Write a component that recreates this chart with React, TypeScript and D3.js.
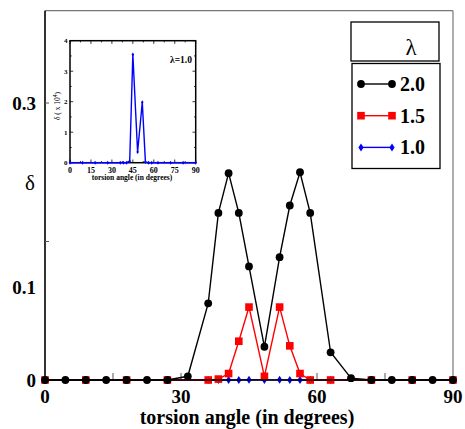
import React from "react";
import * as d3 from "d3";

// ---- data ----
const angles2 = [0, 4.5, 9, 13.5, 18, 22.5, 27, 31.5, 36, 38.25, 40.5, 42.75, 45, 48.4, 51.75, 54, 56.25, 58.5, 63, 67.5, 72, 76.5, 81, 85.5, 90];
const delta2 = [0, 0, 0, 0, 0, 0, 0, 0.004, 0.083, 0.181, 0.224, 0.181, 0.123, 0.036, 0.133, 0.189, 0.225, 0.181, 0.03, 0.002, 0, 0, 0, 0, 0];
const anglesB = [0, 9, 18, 27, 36, 38.25, 40.5, 42.75, 45, 48.4, 51.75, 54, 56.25, 58.5, 63, 72, 81, 90];
const delta15 = [0, 0, 0, 0, 0, 0.001, 0.007, 0.042, 0.079, 0.004, 0.079, 0.037, 0.007, 0, 0, 0, 0, 0];
const delta10e4 = [0, 0, 0, 0, 0, 0, 0, 0.05, 3.55, 0.35, 1.98, 0.02, 0, 0, 0, 0, 0, 0];
const xTickLabels = [0, 30, 60, 90];
const xTickMarks = [15, 30, 60, 75];
const yTickLabels = [0, 0.1, 0.3];
const yTickMarks = [0.15, 0.3];
const insetXTicks = [0, 15, 30, 45, 60, 75, 90];
const insetYTicks = [0, 1, 2, 3, 4];
const legendItems = [
  { label: "2.0", color: "#000000", marker: "circle" },
  { label: "1.5", color: "#ff0000", marker: "square" },
  { label: "1.0", color: "#0000ff", marker: "diamond" },
];

const SERIF = "Liberation Serif, Times New Roman, serif";

function Marker({ type, x, y, color, s = 1 }: { type: string; x: number; y: number; color: string; s?: number }) {
  if (type === "circle") return <circle cx={x} cy={y} r={3.9 * s} fill={color} />;
  if (type === "square") {
    const h = 3.8 * s;
    return <rect x={x - h} y={y - h} width={2 * h} height={2 * h} fill={color} />;
  }
  const w = 2.6 * s, h = 4 * s;
  return <path d={`M${x},${y - h}L${x + w},${y}L${x},${y + h}L${x - w},${y}Z`} fill={color} />;
}

export default function App() {
  const x = d3.scaleLinear().domain([0, 90]).range([45, 453]);
  const y = d3.scaleLinear().domain([0, 0.4]).range([380, 10.7]);
  const ix = d3.scaleLinear().domain([0, 90]).range([70, 195.7]);
  const iy = d3.scaleLinear().domain([0, 4]).range([162.7, 40.7]);

  const blackPts: [number, number][] = angles2.map((a, i) => [a, delta2[i]]);
  const redPts: [number, number][] = anglesB.map((a, i) => [a, delta15[i]]);
  const bluePts: [number, number][] = anglesB.map((a, i) => [a, delta10e4[i] * 1e-4]);
  const insetPts: [number, number][] = anglesB.map((a, i) => [a, delta10e4[i]]);

  const line = d3.line<[number, number]>().x((d) => x(d[0])).y((d) => y(d[1]));
  const iline = d3.line<[number, number]>().x((d) => ix(d[0])).y((d) => iy(d[1]));

  return (
    <svg width={465} height={429} style={{ position: "absolute", left: 0, top: 0, background: "#fff", fontFamily: SERIF }}>
      {/* frame */}
      <line x1={45} x2={453} y1={10.7} y2={10.7} stroke="#777" strokeWidth={1.2} />
      <line x1={453} x2={453} y1={10.7} y2={380} stroke="#777" strokeWidth={1.2} />
      <line x1={45} x2={45} y1={10.7} y2={380} stroke="#000" strokeWidth={1.6} />

      {/* ticks */}
      {xTickMarks.map((t) => (
        <line key={"xt" + t} x1={x(t)} x2={x(t)} y1={380} y2={373} stroke="#555" strokeWidth={1} />
      ))}
      {yTickMarks.map((t) => (
        <line key={"yt" + t} x1={45} x2={49} y1={y(t)} y2={y(t)} stroke="#555" strokeWidth={1} />
      ))}

      {/* series: blue, red, black */}
      <path d={line(bluePts)!} fill="none" stroke="#0000ff" strokeWidth={1.3} />
      {bluePts.map((p, i) => (
        <Marker key={"b" + i} type="diamond" x={x(p[0])} y={y(p[1])} color="#0000ff" />
      ))}
      <path d={line(redPts)!} fill="none" stroke="#ff0000" strokeWidth={1.4} />
      {redPts.map((p, i) => (
        <Marker key={"r" + i} type="square" x={x(p[0])} y={y(p[1])} color="#ff0000" />
      ))}
      <line x1={45} x2={453} y1={380} y2={380} stroke="#000" strokeWidth={1.6} />
      <path d={line(blackPts)!} fill="none" stroke="#000" strokeWidth={1.4} />
      {blackPts.map((p, i) => (
        <Marker key={"k" + i} type="circle" x={x(p[0])} y={y(p[1])} color="#000" />
      ))}

      {/* tick labels */}
      {xTickLabels.map((t) => (
        <text key={"xl" + t} x={x(t)} y={403} textAnchor="middle" fontSize={19} fontWeight="bold" fontFamily={SERIF}>
          {t}
        </text>
      ))}
      {yTickLabels.map((t) => (
        <text key={"yl" + t} x={36} y={y(t) + 6.5} textAnchor="end" fontSize={19} fontWeight="bold" fontFamily={SERIF}>
          {t}
        </text>
      ))}
      <text x={30} y={190} textAnchor="middle" fontSize={21} fontFamily={SERIF}>δ</text>
      <text x={247} y={424} textAnchor="middle" fontSize={20} fontWeight="bold" fontFamily={SERIF}>
        torsion angle (in degrees)
      </text>

      {/* legend */}
      <rect x={351} y={22} width={88} height={39} fill="#fff" stroke="#000" strokeWidth={1.3} />
      <text x={411} y={55} textAnchor="middle" fontSize={23} fontFamily={SERIF}>λ</text>
      <rect x={352} y={63.5} width={88} height={105} fill="#fff" stroke="#000" strokeWidth={1.3} />
      {legendItems.map((it, i) => {
        const ly = 84 + i * 31.7;
        return (
          <g key={"lg" + i}>
            <line x1={361} x2={392} y1={ly} y2={ly} stroke={it.color} strokeWidth={1.4} />
            <Marker type={it.marker} x={361} y={ly} color={it.color} />
            <Marker type={it.marker} x={392} y={ly} color={it.color} />
            <text x={400} y={ly + 7} fontSize={20} fontWeight="bold" fontFamily={SERIF}>
              {it.label}
            </text>
          </g>
        );
      })}

      {/* inset */}
      <rect x={70} y={40.7} width={125.7} height={122} fill="#fff" stroke="#000" strokeWidth={1.5} />
      {d3.range(0, 90.1, 7.5).map((t) => (
        <g key={"ixt" + t}>
          <line x1={ix(t)} x2={ix(t)} y1={162.7} y2={t % 15 === 0 ? 159.5 : 161} stroke="#000" strokeWidth={0.8} />
          <line x1={ix(t)} x2={ix(t)} y1={40.7} y2={t % 15 === 0 ? 43.9 : 42.4} stroke="#000" strokeWidth={0.8} />
        </g>
      ))}
      {d3.range(0, 4.01, 0.5).map((t) => (
        <g key={"iyt" + t}>
          <line x1={70} x2={t % 1 === 0 ? 73.2 : 71.7} y1={iy(t)} y2={iy(t)} stroke="#000" strokeWidth={0.8} />
          <line x1={195.7} x2={t % 1 === 0 ? 192.5 : 194} y1={iy(t)} y2={iy(t)} stroke="#000" strokeWidth={0.8} />
        </g>
      ))}
      <path d={iline(insetPts)!} fill="none" stroke="#0000ff" strokeWidth={1.4} />
      {insetPts.map((p, i) => (
        <Marker key={"ib" + i} type="diamond" x={ix(p[0])} y={iy(p[1])} color="#0000ff" s={0.5} />
      ))}
      {insetXTicks.map((t) => (
        <text key={"ixl" + t} x={ix(t)} y={172.5} textAnchor="middle" fontSize={8} fontWeight="bold" fontFamily={SERIF}>
          {t}
        </text>
      ))}
      {insetYTicks.map((t) => (
        <text key={"iyl" + t} x={67.5} y={iy(t) + 2.5} textAnchor="end" fontSize={7} fontWeight="bold" fontFamily={SERIF}>
          {t}
        </text>
      ))}
      <text x={132} y={180} textAnchor="middle" fontSize={7.5} fontWeight="bold" fontFamily={SERIF}>
        torsion angle (in degrees)
      </text>
      <text transform="translate(60,106) rotate(-90)" textAnchor="middle" fontSize={7.5} fontFamily={SERIF}>
        δ ( x 10<tspan dy={-3} fontSize={5.5}>4</tspan>
        <tspan dy={3}>)</tspan>
      </text>
      <text x={192} y={63} textAnchor="end" fontSize={9.5} fontWeight="bold" fontFamily={SERIF}>
        λ=1.0
      </text>
    </svg>
  );
}
